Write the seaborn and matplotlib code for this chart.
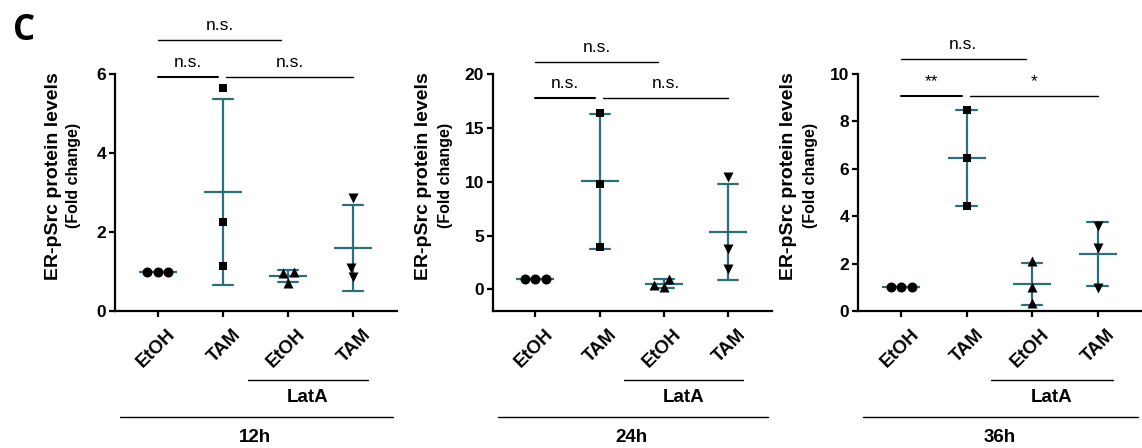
import matplotlib
matplotlib.use("Agg")
import matplotlib.pyplot as plt
import matplotlib.transforms as mtransforms
import numpy as np
import pandas as pd
import seaborn as sns

# categories
groups = ["EtOH", "TAM", "LatA EtOH", "LatA TAM"]
tick_labels = ["EtOH", "TAM", "EtOH", "TAM"]
group_markers = ["o", "s", "^", "v"]
timepoints = ["12h", "24h", "36h"]

# values (3 replicates per group)
etoh_12h = [1.0, 1.0, 1.0]
tam_12h = [5.65, 2.25, 1.15]
lata_etoh_12h = [1.0, 0.72, 0.95]
lata_tam_12h = [2.85, 0.85, 1.1]

etoh_24h = [1.0, 1.0, 1.0]
tam_24h = [16.4, 9.8, 3.9]
lata_etoh_24h = [1.0, 0.2, 0.45]
lata_tam_24h = [10.4, 3.8, 1.9]

etoh_36h = [1.0, 1.0, 1.0]
tam_36h = [8.5, 6.45, 4.45]
lata_etoh_36h = [2.1, 1.0, 0.35]
lata_tam_36h = [3.6, 2.65, 0.95]

# significance labels: (EtOH vs LatA EtOH, EtOH vs TAM, TAM vs LatA TAM)
sig_12h = ["n.s.", "n.s.", "n.s."]
sig_24h = ["n.s.", "n.s.", "n.s."]
sig_36h = ["n.s.", "**", "*"]

y_limits = [(0, 6), (-2, 20), (0, 10)]
y_ticks = [[0, 2, 4, 6], [0, 5, 10, 15, 20], [0, 2, 4, 6, 8, 10]]

panel_values = [
    [etoh_12h, tam_12h, lata_etoh_12h, lata_tam_12h],
    [etoh_24h, tam_24h, lata_etoh_24h, lata_tam_24h],
    [etoh_36h, tam_36h, lata_etoh_36h, lata_tam_36h],
]
panel_sigs = [sig_12h, sig_24h, sig_36h]

sns.set_style("ticks")
plt.rcParams["font.family"] = ["Liberation Sans", "DejaVu Sans"]
plt.rcParams["text.color"] = "black"
plt.rcParams["axes.labelcolor"] = "black"
plt.rcParams["xtick.color"] = "black"
plt.rcParams["ytick.color"] = "black"

TEAL = "#2a6f7e"
W, H = 1142, 448
fig = plt.figure(figsize=(W / 100, H / 100), dpi=100)

# axes boxes in pixels: (left, right)
boxes = [(115, 397), (493, 772), (858, 1142)]
ax_top, ax_bottom = 74, 311
# bracket heights in axes fraction: (top bracket, lower brackets)
bracket_y = [(1.143, 0.987), (1.05, 0.90), (1.064, 0.907)]
label_shift = mtransforms.ScaledTranslation(9 / 100, 0, fig.dpi_scale_trans)

for i, (left, right) in enumerate(boxes):
    ax = fig.add_axes([left / W, (H - ax_bottom) / H, (right - left) / W,
                       (ax_bottom - ax_top) / H])
    vals = panel_values[i]
    df = pd.DataFrame({
        "group": np.repeat(groups, [len(v) for v in vals]),
        "value": np.concatenate(vals),
    })

    # mean +/- SD
    sns.pointplot(data=df, x="group", y="value", order=groups, ax=ax,
                  estimator="mean", errorbar="sd", capsize=0.31, color=TEAL,
                  marker="_", markersize=27, markeredgewidth=1.6,
                  linestyle="none", err_kws={"linewidth": 1.6})

    # individual points
    for g, m in zip(groups, group_markers):
        sub = df[df["group"] == g]
        size = 6.2 if m == "s" else 7.2
        sns.swarmplot(data=sub, x="group", y="value", order=groups, ax=ax,
                      marker=m, color="black", size=size, linewidth=0,
                      zorder=4, warn_thresh=1)

    tr = mtransforms.blended_transform_factory(ax.transData, ax.transAxes)

    ax.set_xlim(-0.66, 3.68)
    ax.set_ylim(*y_limits[i])
    ax.set_yticks(y_ticks[i])
    ax.set_xticks(range(len(groups)))
    ax.set_xticklabels([])
    for j, lab in enumerate(tick_labels):
        ax.text(j, -0.063, lab, transform=tr + label_shift, rotation=45,
                ha="right", va="top", rotation_mode="anchor",
                fontsize=13.5, fontweight="bold")
    for lab in ax.get_yticklabels():
        lab.set_fontsize(12.5)
        lab.set_fontweight("bold")
    ax.set_xlabel("")
    ax.set_ylabel("")
    for s in ["top", "right"]:
        ax.spines[s].set_visible(False)
    for s in ["left", "bottom"]:
        ax.spines[s].set_linewidth(1.6)
        ax.spines[s].set_color("black")
    ax.tick_params(axis="both", width=1.6, length=4.5, color="black",
                   labelcolor="black", pad=2)

    # y label in two lines
    ax.annotate("ER-pSrc protein levels", xy=(0, 0.57), xycoords="axes fraction",
                xytext=(-44 if i == 0 else -50, 0), textcoords="offset points",
                rotation=90, ha="center", va="center", fontsize=14,
                fontweight="bold")
    ax.annotate("(Fold change)", xy=(0, 0.57), xycoords="axes fraction",
                xytext=(-30 if i == 0 else -34, 0), textcoords="offset points",
                rotation=90, ha="center", va="center", fontsize=11.5,
                fontweight="bold")

    # significance brackets
    y_top, y_low = bracket_y[i]
    brackets = [((0.0, 1.9), y_top, 1.0), ((0.0, 0.93), y_low, 1.5),
                ((1.05, 3.0), y_low, 1.0)]
    for (x0, x1), yb, lw in brackets:
        ax.plot([x0, x1], [yb, yb], transform=tr, color="black", lw=lw,
                clip_on=False)
    for ((x0, x1), yb, lw), txt in zip(brackets, panel_sigs[i]):
        ax.annotate(txt, xy=((x0 + x1) / 2, yb), xycoords=tr,
                    xytext=(0, 7), textcoords="offset points",
                    ha="center", va="baseline", fontsize=12.5)

    # group brackets under the axis
    ax.plot([1.38, 3.23], [-0.291, -0.291], transform=tr, color="black",
            lw=1, clip_on=False)
    ax.text(2.3, -0.367, "LatA", transform=tr, ha="center", va="center",
            fontsize=13.5, fontweight="bold")
    ax.plot([-0.58, 3.62], [-0.447, -0.447], transform=tr, color="black",
            lw=1, clip_on=False)
    ax.text(1.5, -0.535, timepoints[i], transform=tr, ha="center", va="center",
            fontsize=13.5, fontweight="bold")

fig.text(13 / W, 1 - 40 / H, "C", fontsize=25, fontweight="bold",
         family=["Open Sans", "DejaVu Sans"], va="baseline")

fig.savefig("out.png", dpi=100)
